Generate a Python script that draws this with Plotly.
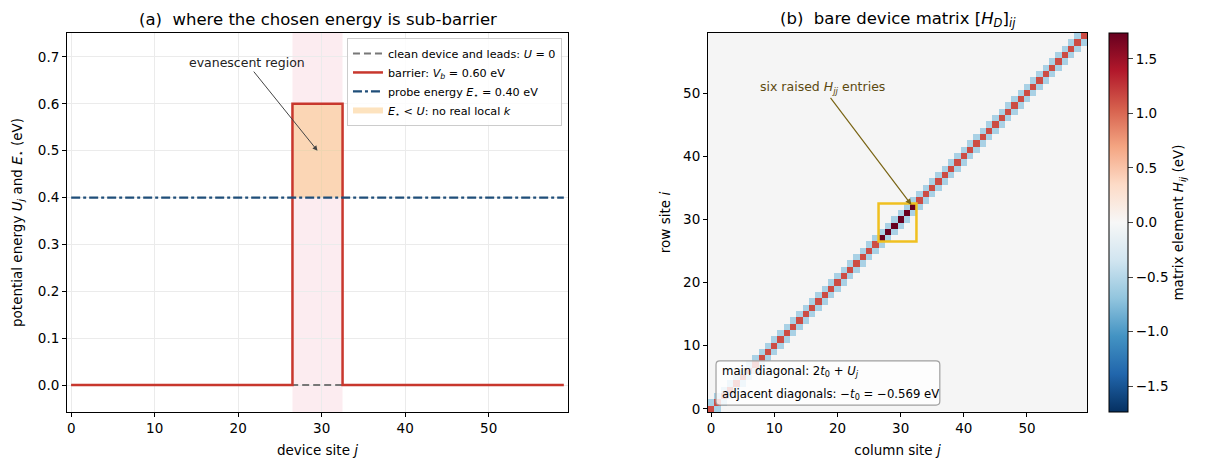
import numpy as np
import plotly.graph_objects as go

# ---------------- data ----------------
sites = list(range(60))
U_clean = [0.0] * 60
U_barrier = [0.0] * 27 + [0.6] * 6 + [0.0] * 27
E_probe = 0.40
t0 = 0.569
barrier_lo, barrier_hi = 26.5, 32.5

x_ticks = [0, 10, 20, 30, 40, 50]
y_ticks_a = [0.0, 0.1, 0.2, 0.3, 0.4, 0.5, 0.6, 0.7]

# tridiagonal device matrix built from U and t0
N = len(sites)
H = np.full((N, N), np.nan)
for j in sites:
    H[j, j] = 2 * t0 + U_barrier[j]
    if j + 1 < N:
        H[j, j + 1] = -t0
        H[j + 1, j] = -t0
vmax = float(np.nanmax(np.abs(H)))

rdbu = ['#67001f', '#b2182b', '#d6604d', '#f4a582', '#fddbc7', '#f7f7f7',
        '#d1e5f0', '#92c5de', '#4393c3', '#2166ac', '#053061']
rdbu_r = [[i / 10, c] for i, c in enumerate(rdbu[::-1])]

FONT = "DejaVu Sans"
TICK = 13.5
LAB = 13.5
W, Hh = 1206, 470
MB = 58                      # bottom margin (px)
PH = Hh - MB                 # plot-area height
def px_x(p): return p / W
def px_y(p): return 1 - p / PH

dom_a = [px_x(67), px_x(568)]
dom_b = [px_x(708), px_x(1087)]
dom_y = [0.0, px_y(33)]

fig = go.Figure()

# orange evanescent fill
fig.add_trace(go.Scatter(
    x=[barrier_lo, barrier_hi, barrier_hi, barrier_lo, barrier_lo],
    y=[E_probe, E_probe, max(U_barrier), max(U_barrier), E_probe],
    fill="toself", fillcolor="rgba(250,170,60,0.33)", mode="none",
    name="<i>E</i><sub>⋆</sub> < <i>U</i>: no real local <i>k</i>",
    legendrank=4, xaxis="x", yaxis="y"))
fig.add_trace(go.Scatter(
    x=sites, y=U_clean, mode="lines",
    line=dict(color="#777777", width=2, dash="7px,4px"),
    name="clean device and leads: <i>U</i> = 0", legendrank=1,
    xaxis="x", yaxis="y"))
fig.add_trace(go.Scatter(
    x=sites, y=U_barrier, mode="lines", line_shape="hvh",
    line=dict(color="#c8372d", width=2.5),
    name="barrier: <i>V<sub>b</sub></i> = 0.60 eV", legendrank=2,
    xaxis="x", yaxis="y"))
fig.add_trace(go.Scatter(
    x=sites, y=[E_probe] * N, mode="lines",
    line=dict(color="#1f4e79", width=2.2, dash="dashdot"),
    name="probe energy <i>E</i><sub>⋆</sub> = 0.40 eV", legendrank=3,
    xaxis="x", yaxis="y"))

# heatmap
fig.add_trace(go.Heatmap(
    z=H, x=sites, y=sites, colorscale=rdbu_r, zmin=-vmax, zmax=vmax,
    xaxis="x2", yaxis="y2", showscale=True, hoverongaps=False, showlegend=False,
    colorbar=dict(
        x=px_x(1109), xanchor="left", xpad=0, ypad=0,
        y=dom_y[0], yanchor="bottom",
        len=dom_y[1] - dom_y[0], lenmode="fraction", thickness=19,
        outlinecolor="black", outlinewidth=1,
        tickvals=[-1.5, -1.0, -0.5, 0.0, 0.5, 1.0, 1.5],
        ticktext=["−1.5", "−1.0", "−0.5", "0.0", "0.5", "1.0", "1.5"],
        ticks="outside", ticklen=5, tickfont=dict(size=TICK, family=FONT),
        title=dict(text="matrix element <i>H<sub>ij</sub></i> (eV)", side="right",
                   font=dict(size=LAB, family=FONT)))))

axis_common = dict(showline=True, linecolor="black", mirror=True, ticks="outside",
                   ticklen=4, tickcolor="black", zeroline=False,
                   tickfont=dict(size=TICK, family=FONT, color="black"))

fig.update_layout(
    width=W, height=Hh, margin=dict(l=0, r=0, t=0, b=MB),
    paper_bgcolor="white", plot_bgcolor="white",
    font=dict(family=FONT, color="black", size=12),
    xaxis=dict(domain=dom_a, range=[-0.5, 59.5], tickvals=x_ticks,
               showgrid=True, gridcolor="#ebebeb",
               title=dict(text="device site <i>j</i>", font=dict(size=LAB), standoff=10),
               **axis_common),
    yaxis=dict(domain=dom_y, range=[-0.0576, 0.7512], tickvals=y_ticks_a,
               tickformat=".1f", showgrid=True, gridcolor="#ebebeb",
               title=dict(text="potential energy <i>U<sub>j</sub></i> and <i>E</i><sub>⋆</sub> (eV)",
                          font=dict(size=LAB), standoff=12),
               **axis_common),
    xaxis2=dict(domain=dom_b, range=[-0.5, 59.5], tickvals=x_ticks, showgrid=False,
                title=dict(text="column site <i>j</i>", font=dict(size=LAB), standoff=10),
                anchor="y2", **axis_common),
    yaxis2=dict(domain=dom_y, range=[-0.5, 59.5], tickvals=x_ticks, showgrid=False,
                title=dict(text="row site <i>i</i>", font=dict(size=LAB), standoff=9),
                anchor="x2", **axis_common),
    legend=dict(x=dom_a[1] - 0.005, xanchor="right", y=dom_y[1] - 0.012, yanchor="top",
                bgcolor="rgba(255,255,255,0.85)", bordercolor="#cccccc", borderwidth=1,
                font=dict(size=11.2, family=FONT), tracegroupgap=2, itemwidth=30),
    showlegend=True,
)

# rounded info box in heatmap (data coords of x2/y2)
bx0, bx1, by0, by1, r = 0.77, 36.2, 0.6, 7.6, 0.6
box_path = (f"M {bx0+r},{by0} L {bx1-r},{by0} Q {bx1},{by0} {bx1},{by0+r} "
            f"L {bx1},{by1-r} Q {bx1},{by1} {bx1-r},{by1} L {bx0+r},{by1} "
            f"Q {bx0},{by1} {bx0},{by1-r} L {bx0},{by0+r} Q {bx0},{by0} {bx0+r},{by0} Z")

shapes = [
    dict(type="rect", xref="x", yref="y domain", x0=barrier_lo, x1=barrier_hi, y0=0, y1=1,
         fillcolor="rgba(235,120,150,0.14)", line=dict(width=0), layer="below"),
    dict(type="rect", xref="x2 domain", yref="y2 domain", x0=0, x1=1, y0=0, y1=1,
         fillcolor="#f5f5f5", line=dict(width=0), layer="below"),
    dict(type="rect", xref="x2", yref="y2", x0=barrier_lo, x1=barrier_hi,
         y0=barrier_lo, y1=barrier_hi, fillcolor="rgba(0,0,0,0)",
         line=dict(color="#f0c020", width=2.5), layer="above"),
    dict(type="path", xref="x2", yref="y2", path=box_path,
         fillcolor="rgba(255,255,255,0.82)", line=dict(color="#a0a0a0", width=1.2),
         layer="above"),
]
fig.update_layout(shapes=shapes)

annotations = [
    dict(text="(a)  where the chosen energy is sub-barrier", xref="paper", yref="paper",
         x=(dom_a[0] + dom_a[1]) / 2, y=px_y(20), xanchor="center", yanchor="middle",
         showarrow=False, font=dict(size=16.5, family=FONT)),
    dict(text="(b)  bare device matrix [<i>H<sub>D</sub></i>]<sub><i>ij</i></sub>",
         xref="paper", yref="paper", x=(dom_b[0] + dom_b[1]) / 2, y=px_y(20),
         xanchor="center", yanchor="middle",
         showarrow=False, font=dict(size=16.5, family=FONT)),
    dict(text="evanescent region", xref="x", yref="y", x=29.5, y=0.5,
         axref="x", ayref="y", ax=21.0, ay=0.688, showarrow=True, arrowhead=2,
         arrowsize=1, arrowwidth=1, arrowcolor="#444444",
         font=dict(size=12.5, family=FONT, color="#222222")),
    dict(text="six raised <i>H<sub>jj</sub></i> entries", xref="x2", yref="y2",
         x=31.7, y=32.3, axref="x2", ayref="y2", ax=17.7, ay=50.8, showarrow=True,
         arrowhead=2, arrowsize=1, arrowwidth=1.2, arrowcolor="#7a6515",
         font=dict(size=12.5, family=FONT, color="#5c4a10")),
    dict(text="main diagonal: 2<i>t</i><sub>0</sub> + <i>U<sub>j</sub></i>",
         xref="x2", yref="y2", x=1.4, y=5.9, xanchor="left", yanchor="middle",
         showarrow=False, font=dict(size=11.7, family=FONT)),
    dict(text="adjacent diagonals: −<i>t</i><sub>0</sub> = −0.569 eV",
         xref="x2", yref="y2", x=1.4, y=2.3, xanchor="left", yanchor="middle",
         showarrow=False, font=dict(size=11.7, family=FONT)),
]
fig.update_layout(annotations=annotations)

fig.write_html("out.html")
